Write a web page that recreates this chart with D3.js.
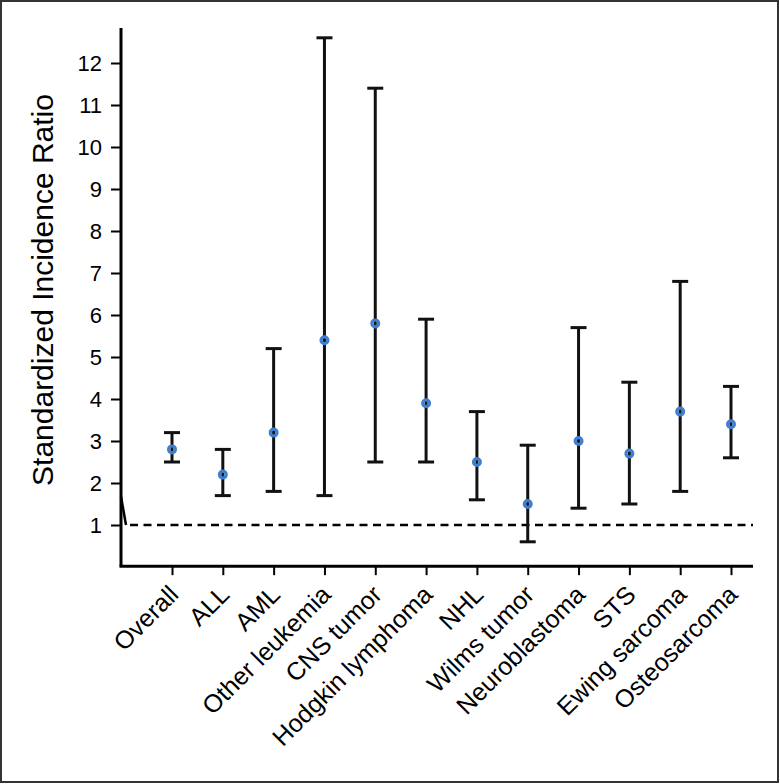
<!DOCTYPE html>
<html><head><meta charset="utf-8">
<script src="https://cdn.jsdelivr.net/npm/d3@7"></script>
<style>body{margin:0;background:#fff}svg{display:block}text{font-family:"Liberation Sans",Arial,sans-serif}</style>
</head><body>
<svg id="c" width="780" height="784"></svg>
<script>
const categories = ["Overall","ALL","AML","Other leukemia","CNS tumor","Hodgkin lymphoma","NHL","Wilms tumor","Neuroblastoma","STS","Ewing sarcoma","Osteosarcoma"];
const sir   = [2.8, 2.2, 3.2, 5.4, 5.8, 3.9, 2.5, 1.5, 3.0, 2.7, 3.7, 3.4];
const lower = [2.5, 1.7, 1.8, 1.7, 2.5, 2.5, 1.6, 0.6, 1.4, 1.5, 1.8, 2.6];
const upper = [3.2, 2.8, 5.2, 12.6, 11.4, 5.9, 3.7, 2.9, 5.7, 4.4, 6.8, 4.3];
const yTicks = [1,2,3,4,5,6,7,8,9,10,11,12];
const refLine = 1;

const svg = d3.select("#c");
// frame
svg.append("rect").attr("x",1).attr("y",1).attr("width",777).attr("height",781)
  .attr("fill","none").attr("stroke","#333").attr("stroke-width",2);

const y = d3.scaleLinear().domain([1,12]).range([525,63]);
const x = d3.scalePoint().domain(categories).range([172,731]);
const axX = 121, axBottom = y(0.02), axTop = 28, axRight = 753;

// Y axis
const yAxis = svg.append("g").attr("transform",`translate(${axX},0)`)
  .call(d3.axisLeft(y).tickValues(yTicks).tickSize(10).tickPadding(9).tickFormat(d3.format("d")));
yAxis.select(".domain").remove();
yAxis.selectAll(".tick line").attr("stroke","#000").attr("stroke-width",2);
yAxis.selectAll(".tick text").attr("font-size",22).attr("fill","#000");
svg.append("line").attr("x1",axX).attr("x2",axX).attr("y1",axTop).attr("y2",axBottom)
  .attr("stroke","#000").attr("stroke-width",3);
// axis break mark
svg.append("line").attr("x1",axX).attr("y1",y(1.68)).attr("x2",axX+5).attr("y2",y(1))
  .attr("stroke","#000").attr("stroke-width",2.5);

// X axis
const xAxis = svg.append("g").attr("transform",`translate(0,${axBottom})`)
  .call(d3.axisBottom(x).tickSize(9).tickFormat(""));
xAxis.select(".domain").remove();
xAxis.selectAll(".tick line").attr("stroke","#000").attr("stroke-width",2);
svg.append("line").attr("x1",axX-1.5).attr("x2",axRight).attr("y1",axBottom).attr("y2",axBottom)
  .attr("stroke","#000").attr("stroke-width",3);
svg.append("g").selectAll("text").data(categories).join("text")
  .attr("transform",d=>`translate(${x(d)+8},${axBottom+30}) rotate(-45)`)
  .attr("text-anchor","end").attr("font-size",25).attr("fill","#000").text(d=>d);

// Y title
svg.append("text").attr("transform",`translate(53,290) rotate(-90)`)
  .attr("text-anchor","middle").attr("font-size",30).attr("fill","#000")
  .text("Standardized Incidence Ratio");

// reference line
svg.append("line").attr("x1",130).attr("x2",axRight).attr("y1",y(refLine)).attr("y2",y(refLine))
  .attr("stroke","#000").attr("stroke-width",2.5).attr("stroke-dasharray","8,5.5");

// error bars
const data = categories.map((c,i)=>({c, v:sir[i], lo:lower[i], hi:upper[i]}));
const g = svg.append("g");
g.selectAll("line.v").data(data).join("line").attr("class","v")
  .attr("x1",d=>x(d.c)).attr("x2",d=>x(d.c)).attr("y1",d=>y(d.lo)).attr("y2",d=>y(d.hi))
  .attr("stroke","#111").attr("stroke-width",3);
["lo","hi"].forEach(k=>{
  g.selectAll("line.c"+k).data(data).join("line").attr("class","c"+k)
    .attr("x1",d=>x(d.c)-8).attr("x2",d=>x(d.c)+8).attr("y1",d=>y(d[k])).attr("y2",d=>y(d[k]))
    .attr("stroke","#111").attr("stroke-width",3);
});
g.selectAll("circle").data(data).join("circle")
  .attr("cx",d=>x(d.c)).attr("cy",d=>y(d.v)).attr("r",3.4)
  .attr("fill","none").attr("stroke","#3f7fcf").attr("stroke-width",3.2);
</script>
</body></html>
